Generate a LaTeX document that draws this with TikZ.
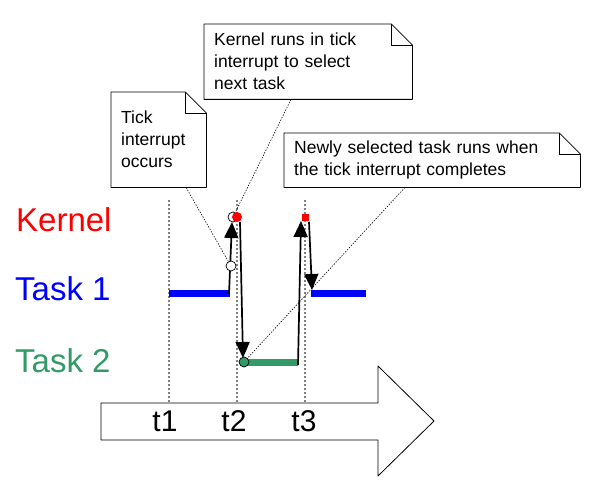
\documentclass[tikz,border=0pt]{standalone}
\usepackage{fontspec}
\setmainfont{Liberation Sans}
\usetikzlibrary{arrows.meta}
\definecolor{taskgreen}{RGB}{51,153,102}
\newcommand\foldsize{21pt}
% contorno di una nota con l'angolo piegato
\newcommand\notebox[1]{%
  \draw[line width=0.8pt] (#1.north west) -- ([xshift=-\foldsize]#1.north east)
    -- ([yshift=-\foldsize]#1.north east) -- (#1.south east) -- (#1.south west) -- cycle;
  \draw[line width=0.8pt] ([xshift=-\foldsize]#1.north east) |- ([yshift=-\foldsize]#1.north east);}

\begin{document}
\begin{tikzpicture}[x=1pt,y=-1pt,line join=round,
  note/.style={anchor=north west,align=left,inner xsep=10pt,inner ysep=0pt,
    font=\fontsize{17.5}{22}\selectfont},
  rowlabel/.style={anchor=base west,inner sep=0pt,font=\fontsize{33}{33}\selectfont},
  timelabel/.style={inner sep=0pt,font=\fontsize{30}{30}\selectfont},
  leader/.style={line width=0.6pt,dash pattern=on 1.4pt off 1.4pt},
  tickline/.style={gray,line width=1.2pt,dash pattern=on 2pt off 2pt},
  bar/.style={line width=7pt},
  runs/.style={line width=1.7pt,-{Triangle[length=16pt,width=14pt]}},
  opencirc/.style={circle,draw,line width=0.7pt,minimum size=10pt,inner sep=0pt}]

  \useasboundingbox (0,0) rectangle (589,492);

  % ---- asse dei tempi -----------------------------------------------------
  \draw[line width=0.8pt,fill=white] (101,403) -- (378,403) -- (378,366) -- (434,421)
        -- (378,476) -- (378,440) -- (101,440) -- cycle;
  \foreach \x/\t in {165/t1,234/t2,304/t3}
    \node[timelabel] (\t) at (\x,421) {\t};
  \foreach \x in {169,237,305}
    \draw[tickline] (\x,200) -- (\x,403);

  % ---- etichette delle righe ----------------------------------------------
  \node[rowlabel,red] (kernel) at (16,231) {Kernel};
  \node[rowlabel,blue] (task1) at (15,300) {Task 1};
  \node[rowlabel,taskgreen] (task2) at (15,372) {Task 2};

  % ---- note ---------------------------------------------------------------
  \node[note,text width=188pt,minimum height=75pt] (noteK) at (204,24)
    {Kernel runs in tick\\interrupt to select\\next task};
  \node[note,text width=75pt,minimum height=95pt] (noteT) at (111,92)
    {Tick\\interrupt\\occurs};
  \node[note,text width=276pt,minimum height=54pt] (noteN) at (284,133)
    {Newly selected task runs when\\the tick interrupt completes};
  \notebox{noteK}
  \notebox{noteT}
  \notebox{noteN}

  % ---- tempo di esecuzione dei task ---------------------------------------
  \draw[bar,blue] (169,293.5) -- (230,293.5);
  \draw[bar,blue] (311,293.5) -- (366,293.5);
  \draw[bar,taskgreen] (244,362) -- (298,362);

  % ---- passaggi fra task e kernel -----------------------------------------
  \coordinate (t1leave) at (229,294);
  \coordinate (kin1)    at (232,222);
  \coordinate (kout1)   at (240,222);
  \coordinate (t2in)    at (243,358);
  \coordinate (t2leave) at (298,365);
  \coordinate (kin2)    at (301,221);
  \coordinate (kout2)   at (309,222);
  \coordinate (t1back)  at (312,290);
  \draw[runs] (t1leave) -- (kin1);
  \draw[runs] (kout1) -- (t2in);
  \draw[runs] (t2leave) -- (kin2);
  \draw[runs] (kout2) -- (t1back);

  % ---- segni e linee di richiamo ------------------------------------------
  \node[opencirc,fill=white] (tick) at (231,266) {};
  \node[opencirc] (kring) at (233,217) {};
  \node[circle,fill=red,minimum size=10pt,inner sep=0pt] (kdot) at (237,217) {};
  \node[fill=red,minimum size=7pt,inner sep=0pt] (ksq) at (305,217) {};
  \node[opencirc,fill=taskgreen] (t2dot) at (244,362) {};

  \draw[leader] ([xshift=75pt]noteT.south west) -- (tick);
  \draw[leader] ([xshift=87pt]noteK.south west) -- (kring);
  \draw[leader] ([xshift=121pt]noteN.south west) -- (t2dot);

\end{tikzpicture}
\end{document}
